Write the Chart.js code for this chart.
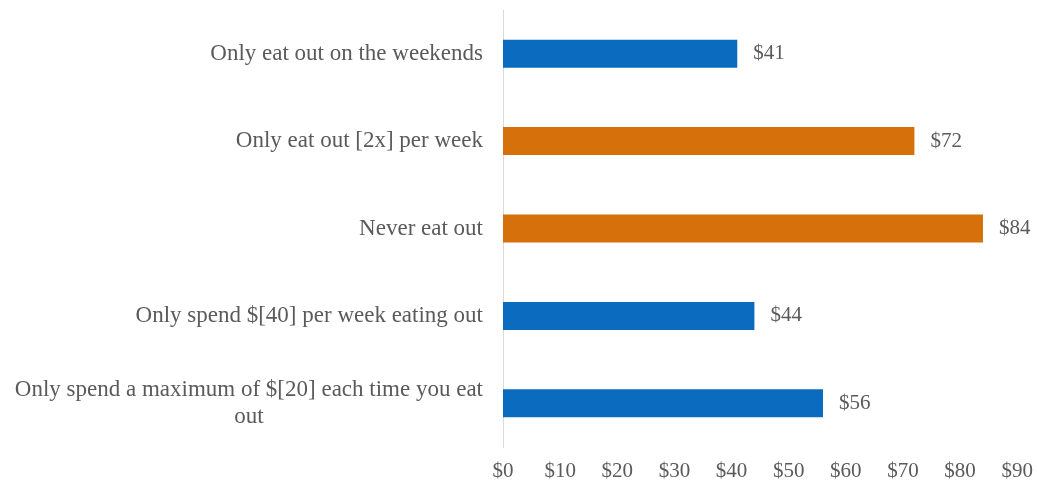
<!DOCTYPE html>
<html>
<head>
<meta charset="utf-8">
<script src="https://cdn.jsdelivr.net/npm/chart.js@4/dist/chart.umd.min.js"></script>
<style>
html,body{margin:0;padding:0;background:#fff;}
#wrap{width:1037px;height:489px;}
</style>
</head>
<body>
<div id="wrap"><canvas id="c" width="1037" height="489"></canvas></div>
<script>
const categories = [
  'Only eat out on the weekends',
  'Only eat out [2x] per week',
  'Never eat out',
  'Only spend $[40] per week eating out',
  ['Only spend a maximum of $[20] each time you eat', 'out']
];
const values = [41, 72, 84, 44, 56];
const barColors = ['#0A6BBF', '#D5700B', '#D5700B', '#0A6BBF', '#0A6BBF'];
const tickMin = 0, tickMax = 90, tickStep = 10;

const FONT = '"Liberation Serif", "DejaVu Serif", serif';
const TEXT = '#5a5a5a';
const FS_CAT = 23;
const FS_NUM = 21;

const catLabelPlugin = {
  id: 'catLabels',
  afterDraw(chart) {
    const ctx = chart.ctx;
    const ys = chart.scales.y;
    const right = chart.chartArea.left - 20;
    ctx.save();
    ctx.font = FS_CAT + 'px ' + FONT;
    ctx.fillStyle = TEXT;
    ctx.textBaseline = 'middle';
    categories.forEach((lab, i) => {
      const y = ys.getPixelForValue(i);
      const lines = Array.isArray(lab) ? lab : [lab];
      const widths = lines.map(l => ctx.measureText(l).width);
      const maxW = Math.max(...widths);
      const cx = right - maxW / 2;
      const lh = 27;
      lines.forEach((l, k) => {
        const ly = y + (k - (lines.length - 1) / 2) * lh;
        ctx.textAlign = 'center';
        ctx.fillText(l, cx, ly);
      });
    });
    ctx.restore();
  }
};

const valueLabelPlugin = {
  id: 'valueLabels',
  afterDatasetsDraw(chart) {
    const ctx = chart.ctx;
    const meta = chart.getDatasetMeta(0);
    ctx.save();
    ctx.font = FS_NUM + 'px ' + FONT;
    ctx.fillStyle = TEXT;
    ctx.textBaseline = 'middle';
    ctx.textAlign = 'left';
    meta.data.forEach((bar, i) => {
      ctx.fillText('$' + values[i], bar.x + 16, bar.y);
    });
    ctx.restore();
  }
};

new Chart(document.getElementById('c'), {
  type: 'bar',
  data: {
    labels: categories.map(c => Array.isArray(c) ? c.join(' ') : c),
    datasets: [{
      data: values,
      backgroundColor: barColors,
      borderWidth: 0,
      barPercentage: 0.64,
      categoryPercentage: 0.5
    }]
  },
  options: {
    indexAxis: 'y',
    responsive: false,
    animation: false,
    devicePixelRatio: 1,
    layout: { padding: { top: 10, right: 3, bottom: 0, left: 0 } },
    plugins: { legend: { display: false }, tooltip: { enabled: false } },
    scales: {
      x: {
        min: tickMin, max: tickMax,
        grid: { display: false },
        border: { display: false },
        ticks: {
          stepSize: tickStep,
          color: TEXT,
          font: { family: FONT, size: FS_NUM },
          padding: 4,
          maxRotation: 0,
          callback: v => '$' + v
        },
        afterFit(scale) { scale.height = 42; }
      },
      y: {
        grid: { display: false },
        border: { display: true, color: '#d9d9d9', width: 1 },
        ticks: { display: false },
        afterFit(scale) { scale.width = 503; }
      }
    }
  },
  plugins: [catLabelPlugin, valueLabelPlugin]
});
</script>
</body>
</html>
